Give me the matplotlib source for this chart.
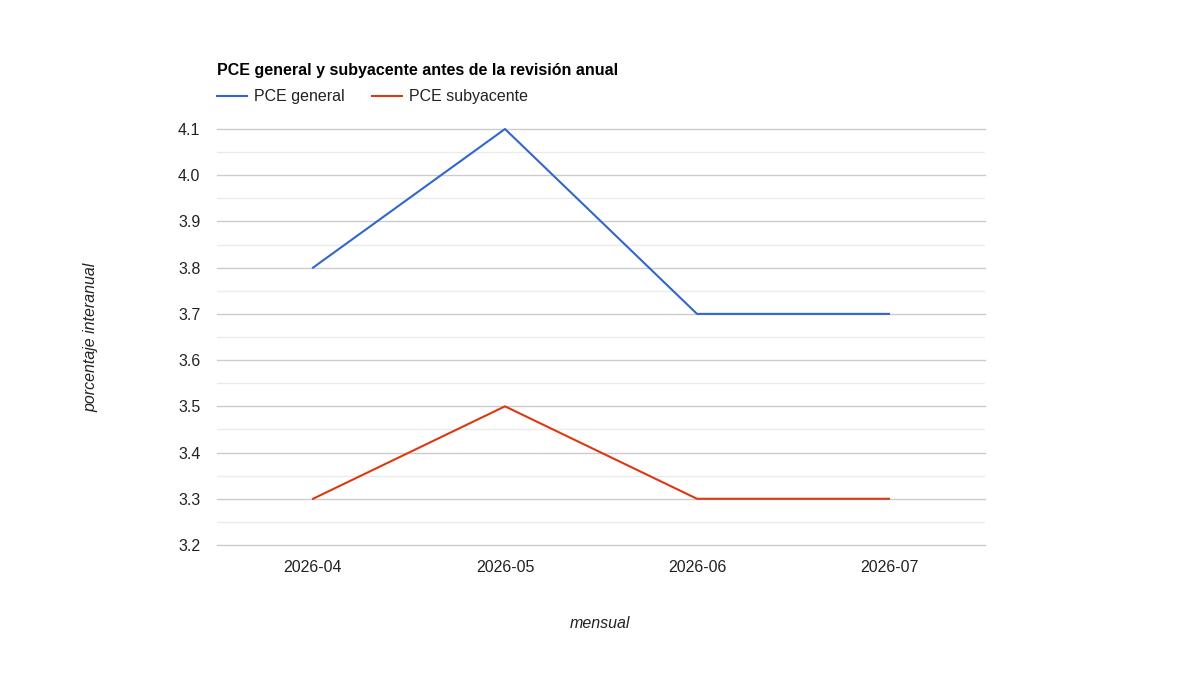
import matplotlib
matplotlib.use("Agg")
import matplotlib.pyplot as plt
from matplotlib.lines import Line2D
import numpy as np

plt.rcParams['font.family'] = ['Liberation Sans', 'DejaVu Sans']

categories = ["2026-04", "2026-05", "2026-06", "2026-07"]
pce_general = [3.8, 4.1, 3.7, 3.7]
pce_subyacente = [3.3, 3.5, 3.3, 3.3]
series_names = ["PCE general", "PCE subyacente"]
colors = ["#3366cc", "#dc3912"]
y_ticks = [3.2, 3.3, 3.4, 3.5, 3.6, 3.7, 3.8, 3.9, 4.0, 4.1]

W, H = 1200, 675
FS = 11.5
fig = plt.figure(figsize=(12, 6.75), dpi=100)
ax = fig.add_axes([217 / W, 1 - 545 / H, 768 / W, 416 / H])

x = np.arange(len(categories))
ax.set_xlim(-0.5, len(categories) - 0.5)
ax.set_ylim(3.2, 4.1)

# minor gridlines
for v in np.arange(3.25, 4.1, 0.1):
    ax.axhline(v, color="#ebebeb", lw=1, zorder=1)
for v in y_ticks:
    ax.axhline(v, color="#cccccc", lw=1, zorder=1, clip_on=False)

ax.plot(x, pce_general, color=colors[0], lw=1.5, zorder=3, clip_on=False)
ax.plot(x, pce_subyacente, color=colors[1], lw=1.5, zorder=3, clip_on=False)

ax.set_yticks(y_ticks)
ax.set_yticklabels([f"{v:.1f}" for v in y_ticks])
ax.set_xticks(x)
ax.set_xticklabels(categories)
ax.tick_params(axis='both', length=0, labelsize=FS, colors="#222222")
ax.tick_params(axis='y', pad=12)
ax.tick_params(axis='x', pad=11)
for s in ax.spines.values():
    s.set_visible(False)

fig.text(217 / W, 1 - 70 / H, "PCE general y subyacente antes de la revisión anual",
         fontsize=FS, fontweight='bold', color="#000000", va='center', ha='left')

# legend
ly = 1 - 96 / H
for (x0, x1, tx), name, c in zip([(217, 247, 254), (372, 402, 409)], series_names, colors):
    fig.add_artist(Line2D([x0 / W, x1 / W], [ly, ly], color=c, lw=1.5))
    fig.text(tx / W, ly, name, fontsize=FS, color="#222222", va='center', ha='left')

fig.text(91 / W, 1 - 337 / H, "porcentaje interanual", rotation=90, fontsize=FS,
         fontstyle='italic', color="#222222", va='center', ha='center')
fig.text(600 / W, 1 - 623 / H, "mensual", fontsize=FS,
         fontstyle='italic', color="#222222", va='center', ha='center')

fig.savefig("out.png", dpi=100)
